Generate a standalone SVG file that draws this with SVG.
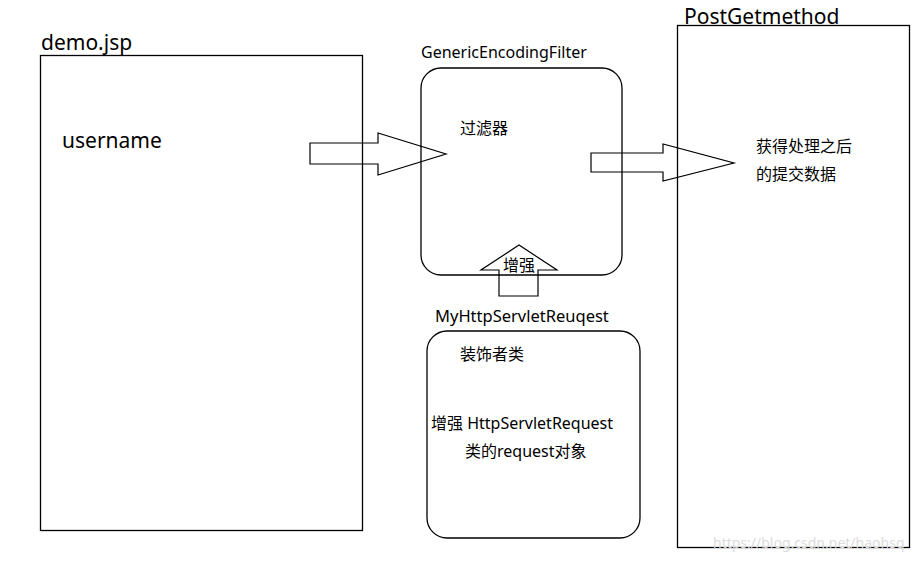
<svg xmlns="http://www.w3.org/2000/svg" width="919" height="562" viewBox="0 0 919 562">
<style>
.box{fill:none;stroke:#000;stroke-width:1.3}
.arr{fill:none;stroke:#000;stroke-width:1.2;stroke-linejoin:miter}
text{font-family:"Noto Sans","Noto Sans CJK SC",sans-serif;fill:#000}
.t20{font-size:21px}
.t15{font-size:16px}
.t16{font-size:16.5px}
.wm{font-size:14px;fill:#dcdcdc}
</style>
<rect width="919" height="562" fill="#fff"/>
<g id="demo">
<rect class="box" x="40.5" y="55.5" width="322" height="475"/>
<text class="t20" x="41" y="50">demo.jsp</text>
<text class="t20" x="62" y="148">username</text>
</g>
<g id="filter">
<rect class="box" x="421" y="68" width="201" height="207" rx="20" ry="20"/>
<text class="t15" x="421" y="58">GenericEncodingFilter</text>
<text class="t15" x="460" y="134">过滤器</text>
</g>
<g id="decorator">
<rect class="box" x="427" y="331" width="213" height="207" rx="20" ry="20"/>
<text class="t16" x="435" y="322">MyHttpServletReuqest</text>
<text class="t15" x="460" y="360">装饰者类</text>
<text class="t15" x="431" y="429">增强 HttpServletRequest</text>
<text class="t15" x="465" y="457">类的request对象</text>
</g>
<g id="postget">
<rect class="box" x="677.5" y="25.5" width="232" height="522"/>
<text class="t20" x="684" y="24">PostGetmethod</text>
<text class="t15" x="756" y="152">获得处理之后</text>
<text class="t15" x="756" y="180">的提交数据</text>
</g>
<g id="connectors">
<polygon class="arr" points="310,143 378,143 378,133 446,154 378,175 378,164 310,164"/>
<polygon class="arr" points="591,153 663,153 663,144 734,163 663,181 663,172 591,172"/>
<polygon class="arr" points="499,296 499,270 481,270 519,245 557,270 538,270 538,296"/>
<text class="t15" x="519" y="271" text-anchor="middle">增强</text>
</g>
<text class="wm" x="713" y="548">https://blog.csdn.net/haohsq</text>
</svg>
